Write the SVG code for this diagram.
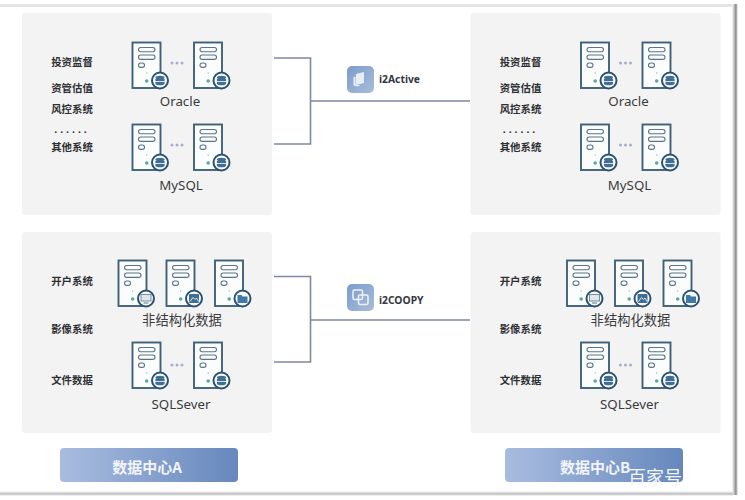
<svg xmlns="http://www.w3.org/2000/svg" width="745" height="500" viewBox="0 0 745 500">
<style>
.panel{fill:#f3f3f4}
.lbl{font:700 10.400px "Noto Sans CJK SC","Noto Sans",sans-serif;fill:#2f3033;text-anchor:middle}
.db{font:400 13.300px "Noto Sans","Noto Sans CJK SC",sans-serif;fill:#3a3c40;text-anchor:middle}
.tool{font:700 10.300px "Noto Sans",sans-serif;fill:#34383f}
.dc{font:700 15px "Noto Sans CJK SC","Noto Sans",sans-serif;fill:#f2f4f9;text-anchor:middle}
.wire{fill:none;stroke:#7f88a5;stroke-width:1.6}
.srv{fill:#fbfcfc;stroke:#3f6178;stroke-width:1.9}
.bar{fill:none;stroke:#5b7488;stroke-width:1.1}
.ring{fill:#fbfcfc;stroke:#2a5270;stroke-width:2}
</style>
<defs>
<linearGradient id="dcg" x1="0" x2="1" y1="0" y2="0"><stop offset="0" stop-color="#a9bcdf"/><stop offset="1" stop-color="#6688bd"/></linearGradient>
<linearGradient id="icg" x1="0" x2="1" y1="0" y2="1"><stop offset="0" stop-color="#7b9dcb"/><stop offset="1" stop-color="#a9bcd9"/></linearGradient>
<linearGradient id="shr" x1="0" x2="1" y1="0" y2="0"><stop offset="0" stop-color="#fff"/><stop offset="0.65" stop-color="#8a8a8a"/><stop offset="1" stop-color="#fff"/></linearGradient>
<linearGradient id="shb" x1="0" x2="0" y1="0" y2="1"><stop offset="0" stop-color="#fff"/><stop offset="0.6" stop-color="#bdbdbd"/><stop offset="1" stop-color="#fff"/></linearGradient>
<g id="server">
<rect class="srv" x="0.5" y="0.5" width="28" height="45.500"/>
<rect class="bar" x="6.500" y="5.500" width="16.500" height="4.200" rx="2.100"/>
<rect class="bar" x="6.500" y="13" width="16.500" height="4.400" rx="2.200"/>
<rect class="bar" x="6.500" y="21" width="6" height="4.400" rx="2.200"/>
<circle cx="14.700" cy="31" r="0.700" fill="#8fc5bb"/>
<circle cx="14.700" cy="39" r="1.800" fill="#5aa99c"/>
<circle class="ring" cx="28" cy="38.500" r="8"/>
</g>
<g id="dbsrv"><use href="#server"/>
<ellipse cx="28" cy="35.600" rx="4.600" ry="1.900" fill="#3f6f96"/>
<rect x="23.400" y="37" width="9.200" height="2.200" fill="#3f6f96"/>
<path d="M23.400 40h9.200v1.400a4.600 1.800 0 0 1-9.200 0z" fill="#3f6f96"/>
</g>
<g id="monsrv"><use href="#server"/>
<rect x="23" y="34.500" width="10" height="6.500" fill="#dfe6ec" stroke="#5b7488" stroke-width="0.800"/>
<path d="M25.500 43h5" stroke="#5b7488"/>
</g>
<g id="imgsrv"><use href="#server"/>
<rect x="23" y="34" width="10" height="9" rx="1" fill="#3f6f96"/>
<path d="M24 41.500l3-4 2 2 1.500-1.500 2 3.500" fill="none" stroke="#dfe6ec"/>
</g>
<g id="fldsrv"><use href="#server"/>
<path d="M23 35h4l1 1.500h5v6.500h-10z" fill="#3f78ad"/>
</g>
<g id="dots"><circle cx="-5" cy="0" r="1.500" fill="#a5aecb"/><circle cx="0" cy="0" r="1.500" fill="#a5aecb"/><circle cx="5" cy="0" r="1.500" fill="#a5aecb"/></g>
<g id="panelTop">
<rect class="panel" x="0" y="0" width="250" height="202" rx="3"/>
<text class="lbl" x="50" y="53">投资监督</text>
<text class="lbl" x="50" y="78.500">资管估值</text>
<text class="lbl" x="50" y="100">风控系统</text>
<text class="lbl" x="50" y="119.500" style="font-family:'Noto Sans',sans-serif" letter-spacing="3">......</text>
<text class="lbl" x="50" y="138">其他系统</text>
<use href="#dbsrv" x="110" y="29"/><use href="#dots" x="155" y="50"/><use href="#dbsrv" x="171.500" y="29"/>
<text class="db" x="158" y="93">Oracle</text>
<use href="#dbsrv" x="110" y="111"/><use href="#dots" x="155" y="132"/><use href="#dbsrv" x="171.500" y="111"/>
<text class="db" x="159" y="177">MySQL</text>
</g>
<g id="panelBottom">
<rect class="panel" x="0" y="0" width="250" height="201" rx="3"/>
<text class="lbl" x="50" y="53">开户系统</text>
<text class="lbl" x="50" y="100.500">影像系统</text>
<text class="lbl" x="50" y="151.500">文件数据</text>
<use href="#monsrv" x="96" y="28"/><use href="#imgsrv" x="144" y="28"/><use href="#fldsrv" x="192.500" y="28"/>
<text class="db" x="160" y="93">非结构化数据</text>
<use href="#dbsrv" x="110" y="110"/><use href="#dots" x="155" y="133"/><use href="#dbsrv" x="171.500" y="110"/>
<text class="db" x="159" y="177">SQLSever</text>
</g>
</defs>
<rect width="745" height="500" fill="#fff"/>
<g id="panel-a-top"><use href="#panelTop" x="22" y="13"/></g>
<g id="panel-b-top"><use href="#panelTop" x="470.500" y="13"/></g>
<g id="panel-a-bottom"><use href="#panelBottom" x="22" y="232"/></g>
<g id="panel-b-bottom"><use href="#panelBottom" x="470.500" y="232"/></g>
<g id="connectors">
<path class="wire" d="M274 58H310.500V144H274M310.500 101H470"/>
<path class="wire" d="M274 276.500H310.500V362H274M310.500 320H470"/>
</g>
<g id="i2active">
<rect x="347" y="66" width="27" height="27" rx="5" fill="url(#icg)"/>
<path d="M356 74l8-2v11l-8 2zM353.500 77l2-.5v8l5 1-3 1-4-1z" fill="#e9eef6"/>
<text class="tool" x="379" y="83">i2Active</text>
</g>
<g id="i2coopy">
<rect x="347" y="284" width="27" height="27" rx="5" fill="url(#icg)"/>
<rect x="353" y="290" width="9.500" height="9.500" rx="1.500" fill="none" stroke="#eef2f8" stroke-width="1.500"/>
<rect x="358.500" y="295" width="9.500" height="9.500" rx="1.500" fill="none" stroke="#eef2f8" stroke-width="1.500"/>
<text class="tool" x="379" y="304">i2COOPY</text>
</g>
<g id="dc-a"><rect x="60" y="448" width="178" height="34" rx="4" fill="url(#dcg)"/><text class="dc" x="147" y="473">数据中心A</text></g>
<g id="dc-b"><rect x="505" y="448" width="178" height="34" rx="4" fill="url(#dcg)"/><text class="dc" x="595" y="473">数据中心B</text></g>
<g id="frame">
<rect x="0" y="4" width="732" height="3" fill="#e4e4e4"/>
<rect x="732" y="4" width="6" height="491" fill="url(#shr)"/>
<rect x="0" y="491" width="733" height="5" fill="url(#shb)"/>
</g>
<text x="628" y="484" font-family="'Noto Sans CJK SC',sans-serif" font-size="18" fill="#f4f6fa">百家号</text>
</svg>
